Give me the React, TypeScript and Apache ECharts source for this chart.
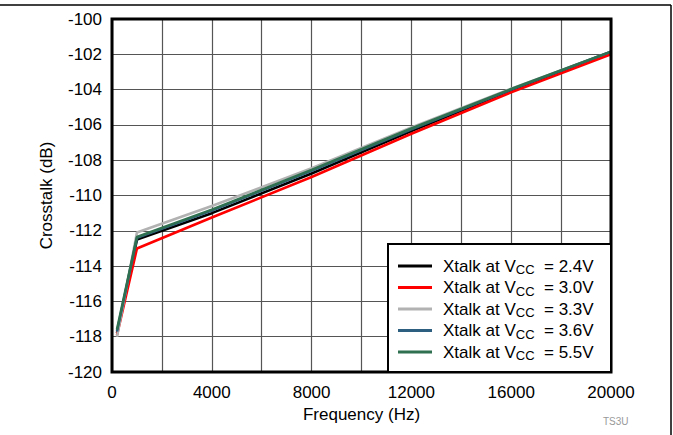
import React, { useEffect, useRef } from "react";
import * as echarts from "echarts";

const freqs = [200, 1000, 4000, 8000, 12000, 16000, 20000];
const vcc24 = [-117.8, -112.5, -111.0, -108.75, -106.35, -104.05, -101.95];
const vcc30 = [-117.9, -113.0, -111.25, -108.95, -106.5, -104.15, -102.0];
const vcc33 = [-118.0, -112.1, -110.6, -108.45, -106.15, -103.95, -101.85];
const vcc36 = [-117.7, -112.4, -110.85, -108.6, -106.25, -104.0, -101.85];
const vcc55 = [-117.6, -112.35, -110.8, -108.55, -106.2, -103.97, -101.85];
const seriesNames = ["2.4V", "3.0V", "3.3V", "3.6V", "5.5V"];
const seriesValues = [vcc24, vcc30, vcc33, vcc36, vcc55];
const seriesColors = ["#000000", "#ff0000", "#b2b2b2", "#2d5f80", "#2e7050"];

export default function App() {
  const ref = useRef<HTMLDivElement>(null);
  useEffect(() => {
    const chart = echarts.init(ref.current!, null, { renderer: "svg" });
    const font = "Liberation Sans, Arial, sans-serif";
    chart.setOption({
      animation: false,
      textStyle: { fontFamily: font },
      grid: {
        left: 112,
        right: 62,
        top: 19,
        bottom: 63,
        show: true,
        borderColor: "#000",
        borderWidth: 3,
        backgroundColor: "transparent",
        z: 3,
      },
      xAxis: {
        type: "value",
        min: 0,
        max: 20000,
        interval: 2000,
        axisLine: { show: false },
        axisTick: { show: false },
        splitLine: { show: true, lineStyle: { color: "#555", width: 1.2 } },
        axisLabel: {
          color: "#000",
          fontSize: 17,
          fontFamily: font,
          margin: 12,
          formatter: (v: number) => (v % 4000 === 0 ? String(v) : ""),
        },
        name: "Frequency (Hz)",
        nameLocation: "middle",
        nameGap: 32,
        nameTextStyle: { color: "#000", fontSize: 17, fontFamily: font },
      },
      yAxis: {
        type: "value",
        min: -120,
        max: -100,
        interval: 2,
        axisLine: { show: false },
        axisTick: { show: false },
        splitLine: { show: true, lineStyle: { color: "#555", width: 1.2 } },
        axisLabel: {
          color: "#000",
          fontSize: 17,
          fontFamily: font,
          margin: 10,
        },
        name: "Crosstalk (dB)",
        nameLocation: "middle",
        nameGap: 57,
        nameTextStyle: { color: "#000", fontSize: 17, fontFamily: font },
      },
      legend: {
        orient: "vertical",
        left: 398,
        top: 256,
        itemWidth: 34,
        itemHeight: 3,
        itemGap: 1.5,
        padding: 0,
        icon: "rect",
        data: seriesNames.map((n, i) => ({
          name: n,
          itemStyle: { color: seriesColors[i] },
        })),
        formatter: (name: string) => `Xtalk at V{sub|CC}  = ${name}`,
        textStyle: {
          color: "#000",
          fontSize: 17,
          lineHeight: 18,
          fontFamily: font,
          padding: [0, 0, 0, 6],
          rich: {
            sub: {
              fontSize: 13,
              lineHeight: 18,
              fontFamily: font,
              color: "#000",
              padding: [7, 0, 0, 0],
            },
          },
        },
        z: 10,
      },
      graphic: [
        {
          type: "rect",
          shape: { x: 388, y: 244, width: 223, height: 128 },
          style: { fill: "#fff", stroke: "#000", lineWidth: 2 },
          z: 5,
        },
        {
          type: "line",
          shape: { x1: 0, y1: 5, x2: 671, y2: 5 },
          style: { stroke: "#000", lineWidth: 1.5 },
        },
        {
          type: "line",
          shape: { x1: 671, y1: 5, x2: 671, y2: 435 },
          style: { stroke: "#000", lineWidth: 1.5 },
        },
        {
          type: "text",
          left: 603,
          top: 416,
          style: { text: "TS3U", fill: "#999", fontSize: 10, fontFamily: font },
        },
      ],
      series: seriesNames.map((n, i) => ({
        name: n,
        type: "line",
        showSymbol: false,
        symbol: "none",
        z: 2,
        lineStyle: { color: seriesColors[i], width: 2.6 },
        itemStyle: { color: seriesColors[i] },
        data: freqs.map((f, j) => [f, seriesValues[i][j]]),
      })),
    });
    return () => chart.dispose();
  }, []);
  return <div ref={ref} style={{ width: 673, height: 435, position: "absolute", left: 0, top: 0 }} />;
}
